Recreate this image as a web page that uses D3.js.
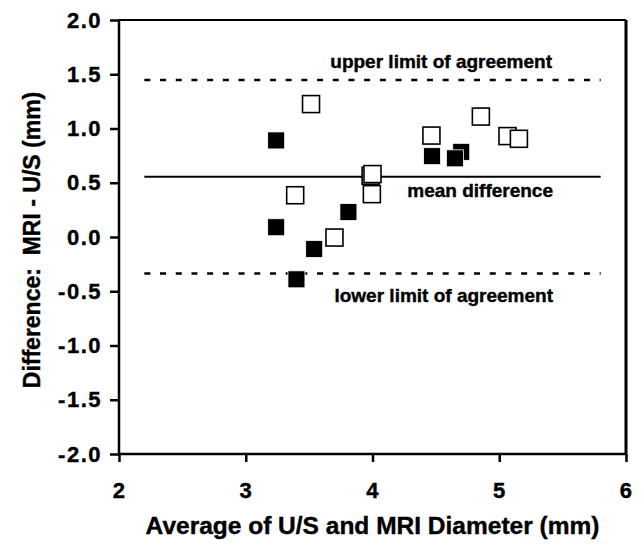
<!DOCTYPE html>
<html>
<head>
<meta charset="utf-8">
<script src="https://cdn.jsdelivr.net/npm/d3@7"></script>
<style>
  body { margin: 0; background: #fff; }
  text { font-family: "Liberation Sans", Arial, sans-serif; font-weight: bold; fill: #000; stroke: #000; stroke-width: 0.4px; }
</style>
</head>
<body>
<div id="chart"></div>
<script>
// filled squares
const filledX = [3.24, 3.24, 3.40, 3.54, 3.81, 4.47, 4.70, 4.65];
const filledY = [0.89, 0.09, -0.39, -0.11, 0.23, 0.745, 0.785, 0.725];
// open squares
const openX = [3.515, 3.39, 3.70, 3.985, 4.0, 3.995, 4.465, 4.855, 5.065, 5.155];
const openY = [1.225, 0.385, -0.005, 0.565, 0.58, 0.395, 0.935, 1.11, 0.93, 0.905];

const xTicks = [2, 3, 4, 5, 6];
const yTicks = [2.0, 1.5, 1.0, 0.5, 0.0, -0.5, -1.0, -1.5, -2.0];

const meanDiff = 0.555;
const upperLimit = 1.447;
const lowerLimit = -0.337;
const lineSpan = [2.2, 5.8];

const width = 644;
const height = 545;
const margin = { top: 20, right: 18, bottom: 91, left: 119 };

const svg = d3.select("#chart")
  .append("svg")
  .attr("width", width)
  .attr("height", height);

const x = d3.scaleLinear().domain([2, 6]).range([margin.left, width - margin.right]);
const y = d3.scaleLinear().domain([-2, 2]).range([height - margin.bottom, margin.top]);

// frame (top + right)
svg.append("line")
  .attr("x1", x(2)).attr("x2", x(6))
  .attr("y1", y(2)).attr("y2", y(2))
  .attr("stroke", "#000").attr("stroke-width", 2);
svg.append("line")
  .attr("x1", x(6)).attr("x2", x(6))
  .attr("y1", y(2)).attr("y2", y(-2))
  .attr("stroke", "#000").attr("stroke-width", 3);

// axes
const yFmt = d => d3.format(".1f")(d).replace("−", "-");
const xAxis = svg.append("g")
  .attr("transform", `translate(0,${y(-2)})`)
  .call(d3.axisBottom(x).tickValues(xTicks).tickFormat(d3.format("d")).tickSize(8).tickPadding(20));
const yAxis = svg.append("g")
  .attr("transform", `translate(${x(2)},0)`)
  .call(d3.axisLeft(y).tickValues(yTicks).tickFormat(yFmt).tickSize(9).tickPadding(8));

[xAxis, yAxis].forEach(g => {
  g.attr("font-size", null).attr("font-family", null);
  g.select(".domain").attr("stroke", "#000").attr("stroke-width", 2.5);
  g.selectAll(".tick line").attr("stroke", "#000").attr("stroke-width", 2.5);
  g.selectAll(".tick text")
    .style("font-size", "22px")
    .style("letter-spacing", "1.5px")
    .style("font-family", "Liberation Sans, Arial, sans-serif")
    .style("font-weight", "bold")
    .attr("fill", "#000");
});
yAxis.select(".domain").attr("d", `M0,${y(2)}V${y(-2)}`);
xAxis.select(".domain").attr("d", `M${x(2)},0H${x(6)}`);

// reference lines
svg.append("line")
  .attr("x1", x(lineSpan[0])).attr("x2", x(lineSpan[1]))
  .attr("y1", y(meanDiff)).attr("y2", y(meanDiff))
  .attr("stroke", "#000").attr("stroke-width", 2);
[upperLimit, lowerLimit].forEach(v => {
  svg.append("line")
    .attr("x1", x(lineSpan[0])).attr("x2", x(lineSpan[1]))
    .attr("y1", y(v)).attr("y2", y(v))
    .attr("stroke", "#000").attr("stroke-width", 2.5)
    .attr("stroke-dasharray", "6,9.7");
});

// labels on lines
svg.append("text").attr("x", 552).attr("y", y(upperLimit) - 12)
  .attr("text-anchor", "end").style("font-size", "19px").text("upper limit of agreement");
svg.append("text").attr("x", 553).attr("y", y(meanDiff) + 20)
  .attr("text-anchor", "end").style("font-size", "19px").text("mean difference");
svg.append("text").attr("x", 553).attr("y", y(lowerLimit) + 28)
  .attr("text-anchor", "end").style("font-size", "19px").text("lower limit of agreement");

// points
const s = 17;
const filled = filledX.map((d, i) => ({ x: d, y: filledY[i] }));
const open = openX.map((d, i) => ({ x: d, y: openY[i] }));

svg.append("g").selectAll("rect")
  .data(open)
  .enter().append("rect")
    .attr("x", d => x(d.x) - s / 2)
    .attr("y", d => y(d.y) - s / 2)
    .attr("width", s).attr("height", s)
    .attr("fill", "#fff").attr("stroke", "#000").attr("stroke-width", 1.6);

svg.append("g").selectAll("rect")
  .data(filled)
  .enter().append("rect")
    .attr("x", d => x(d.x) - s / 2)
    .attr("y", d => y(d.y) - s / 2)
    .attr("width", s).attr("height", s)
    .attr("fill", "#000").attr("stroke", "#fff").attr("stroke-width", 0.8);

// axis titles
svg.append("text")
  .attr("x", (x(2) + x(6)) / 2).attr("y", 534)
  .attr("text-anchor", "middle").style("font-size", "24.5px")
  .text("Average of U/S and MRI Diameter (mm)");
svg.append("text")
  .attr("transform", `translate(40,${(y(2) + y(-2)) / 2 + 3}) rotate(-90)`)
  .attr("text-anchor", "middle").style("font-size", "23px")
  .style("white-space", "pre")
  .text("Difference:  MRI - U/S (mm)");
</script>
</body>
</html>
